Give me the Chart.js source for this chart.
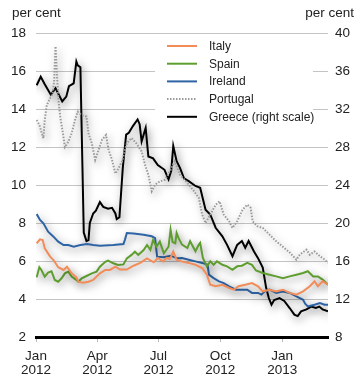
<!DOCTYPE html>
<html>
<head>
<meta charset="utf-8">
<script src="https://cdn.jsdelivr.net/npm/chart.js@4.4.0/dist/chart.umd.min.js"></script>
<style>
  html, body { margin: 0; padding: 0; background: #fff; }
  #wrap { width: 360px; height: 389px; position: relative; }
</style>
</head>
<body>
<div id="wrap"><canvas id="chart"></canvas></div>
<script>
// days counted from 1 Jan 2012
const tickDays = [0, 91, 182, 274, 366];
const tickMonths = ['Jan', 'Apr', 'Jul', 'Oct', 'Jan'];
const tickYears = ['2012', '2012', '2012', '2012', '2013'];

const italyDays = [1,6,10,13,21,26,33,41,46,53,60,63,70,78,85,95,103,110,118,125,135,145,155,165,175,181,189,194,199,204,209,216,227,237,247,254,259,267,277,287,294,301,311,321,330,337,347,357,367,377,387,397,407,414,419,426,434];
const italy = [6.93,7.14,7.1,6.67,6.23,6.05,5.67,5.53,5.7,5.35,5.14,4.91,4.86,4.91,5.0,5.35,5.53,5.53,5.7,5.55,5.55,5.75,5.9,6.14,5.93,6.16,5.98,6.16,6.1,6.5,6.07,5.98,5.9,5.8,5.63,5.28,4.75,4.67,4.75,4.58,4.49,4.67,4.75,4.84,4.67,4.4,4.49,4.4,4.49,4.32,4.23,4.4,4.67,4.93,4.67,4.93,4.75];

const spainDays = [1,5,8,13,18,23,28,33,38,43,48,53,60,63,68,75,83,90,95,103,107,115,122,130,135,142,147,152,160,165,170,174,179,184,190,197,200,203,207,209,212,217,225,229,237,242,244,248,254,259,264,269,277,284,292,299,306,314,321,327,337,347,357,367,377,387,397,404,412,419,426,434];
const spain = [5.14,5.67,5.53,5.18,5.39,5.46,5.0,4.91,5.09,5.35,5.44,5.18,5.0,4.91,5.09,5.21,5.35,5.44,5.7,5.96,6.02,5.88,5.79,5.82,6.14,6.32,6.49,6.32,6.58,6.84,6.58,7.1,6.75,7.02,6.4,6.75,7.65,7.0,6.93,7.47,7.2,6.86,6.68,7.04,6.51,6.86,6.95,6.16,5.72,5.98,5.8,5.98,5.8,5.72,5.54,5.72,5.75,5.9,5.8,5.5,5.37,5.28,5.19,5.1,5.19,5.28,5.37,5.46,5.19,5.19,5.02,4.75];

const irelandDays = [1,6,11,18,26,33,41,48,56,66,76,85,95,115,130,132,135,145,160,172,177,180,190,200,210,217,227,237,247,255,257,264,272,279,287,297,307,314,321,330,335,340,347,357,367,377,382,387,397,400,404,414,422,429,434];
const ireland = [8.47,8.16,7.98,7.54,7.28,7.02,6.84,6.84,6.75,6.84,6.89,6.84,6.8,6.84,6.89,7.1,7.47,7.45,7.38,7.3,7.2,6.23,6.2,6.28,6.14,6.16,6.07,5.98,5.9,5.8,5.28,5.1,4.93,4.84,4.67,4.49,4.49,4.49,4.32,4.32,4.23,4.4,4.49,4.32,4.4,4.32,4.23,4.14,3.96,3.75,3.61,3.7,3.79,3.7,3.7];

const portugalDays = [1,5,8,11,13,16,21,25,27,29,31,33,36,40,43,48,53,58,62,68,75,78,83,88,93,98,104,108,113,118,123,128,135,142,149,157,162,167,172,177,184,192,199,206,214,227,235,242,247,252,259,267,273,279,287,292,299,307,314,319,322,329,337,347,357,367,377,387,392,402,407,414,422,429,434];
const portugal = [13.42,13.16,12.8,12.46,13.42,14.2,14.56,14.83,15.5,17.3,15.9,14.65,13.6,12.72,12.0,12.28,12.72,13.42,13.86,13.68,13.6,12.72,12.19,11.32,11.84,12.37,12.63,11.84,11.32,10.6,10.9,11.25,12.2,12.47,12.2,11.77,11.07,10.54,9.67,10.02,10.19,10.28,10.72,11.25,10.54,10.02,9.67,9.32,8.44,8.0,8.44,8.96,9.14,8.44,8.09,7.74,8.09,8.7,8.96,8.8,8.09,7.83,7.74,7.39,7.04,6.75,6.45,6.07,6.33,6.6,6.33,6.5,6.25,6.07,5.9];

// Greece is read on the right scale
const greeceDays = [1,7,13,22,29,39,45,49,56,60,62,66,69,71,75,78,80,85,89,95,100,107,113,118,120,124,129,134,138,144,151,154,157,163,167,174,181,191,197,201,204,209,214,220,227,237,244,252,259,267,277,284,292,299,306,311,316,324,330,337,342,346,350,354,362,369,377,384,389,394,402,409,416,421,426,434];
const greece = [34.5,35.4,34.6,33.5,34.2,32.8,33.3,34.4,34.7,37.0,36.6,36.4,26,19.0,18.1,18.2,20.0,21.0,21.3,22.2,21.7,21.5,21.6,21.0,20.4,20.6,25.8,29.3,29.5,30.2,30.9,30.4,28.6,30.0,27.0,26.8,26.1,25.6,24.6,25.5,28.1,26.5,25.8,24.7,24.4,23.9,23.7,21.4,20.9,19.5,18.6,17.7,16.5,17.7,18.1,17.4,18.1,17.0,16.3,15.3,13.2,12.1,11.4,11.9,12.1,11.8,11.05,10.35,10.2,10.7,10.9,11.2,11.05,11.2,10.9,10.7];

const FONT = '"Liberation Sans", Arial, Helvetica, sans-serif';
const TEXT = '#222';

const pts = (days, vals) => days.map((d, i) => ({ x: d, y: vals[i] }));

// soft drop shadow under each line
const lineShadow = {
  id: 'lineShadow',
  beforeDatasetDraw(chart) {
    const ctx = chart.ctx;
    ctx.save();
    ctx.shadowColor = 'rgba(0,0,0,0.5)';
    ctx.shadowBlur = 9;
    ctx.shadowOffsetX = 2;
    ctx.shadowOffsetY = 3;
  },
  afterDatasetDraw(chart) {
    chart.ctx.restore();
  }
};

// legend boxed inside the plot + "per cent" headers
const boxLegend = {
  id: 'boxLegend',
  afterDatasetsDraw(chart) {
    const ctx = chart.ctx;
    ctx.save();
    ctx.fillStyle = '#fff';
    ctx.fillRect(155, 37, 158, 89);
    ctx.font = '12px ' + FONT;
    ctx.textBaseline = 'middle';
    ctx.textAlign = 'left';
    chart.data.datasets.forEach((ds, i) => {
      const y = 46 + i * 17.7;
      ctx.beginPath();
      ctx.strokeStyle = ds.borderColor;
      ctx.lineWidth = 2;
      ctx.setLineDash(ds.borderDash || []);
      ctx.moveTo(167, y);
      ctx.lineTo(197, y);
      ctx.stroke();
      ctx.setLineDash([]);
      ctx.fillStyle = TEXT;
      ctx.fillText(ds.label, 209, y + 0.5);
    });
    ctx.restore();
  },
  afterDraw(chart) {
    const ctx = chart.ctx;
    ctx.save();
    ctx.font = '13.5px ' + FONT;
    ctx.fillStyle = TEXT;
    ctx.textBaseline = 'middle';
    ctx.textAlign = 'left';
    ctx.fillText('per cent', 12, 13);
    ctx.textAlign = 'right';
    ctx.fillText('per cent', 354, 13);
    ctx.restore();
  }
};

const lineStyle = { pointRadius: 0, borderWidth: 2, tension: 0, fill: false };

new Chart(document.getElementById('chart'), {
  type: 'line',
  data: {
    datasets: [
      { label: 'Italy', data: pts(italyDays, italy), borderColor: '#f28c58', yAxisID: 'y', ...lineStyle },
      { label: 'Spain', data: pts(spainDays, spain), borderColor: '#5e9e2e', yAxisID: 'y', ...lineStyle },
      { label: 'Ireland', data: pts(irelandDays, ireland), borderColor: '#2e64a6', yAxisID: 'y', ...lineStyle },
      { label: 'Portugal', data: pts(portugalDays, portugal), borderColor: '#9a9a9a', borderDash: [1.5, 1.5], yAxisID: 'y', ...lineStyle },
      { label: 'Greece (right scale)', data: pts(greeceDays, greece), borderColor: '#000', yAxisID: 'y1', ...lineStyle }
    ]
  },
  options: {
    responsive: true,
    maintainAspectRatio: false,
    animation: false,
    layout: { padding: { top: 33, left: 0, right: 0, bottom: 0 } },
    plugins: { legend: { display: false }, tooltip: { enabled: false } },
    scales: {
      x: {
        type: 'linear',
        min: 0,
        max: 434,
        afterBuildTicks: s => { s.ticks = tickDays.map(v => ({ value: v })); },
        afterFit: s => { s.height = 52; },
        ticks: {
          autoSkip: false,
          maxRotation: 0,
          padding: 8,
          color: TEXT,
          font: { family: FONT, size: 13.5, lineHeight: 0.98 },
          callback: (v, i) => [tickMonths[i], tickYears[i]]
        },
        grid: { drawOnChartArea: false, tickLength: 5, color: '#bbb' },
        border: { display: true, color: '#000', width: 3 }
      },
      y: {
        position: 'left',
        min: 2,
        max: 18,
        afterFit: s => { s.width = 36; },
        ticks: { stepSize: 2, padding: 10, color: TEXT, font: { family: FONT, size: 13.5 } },
        grid: { color: '#c4c4c4', lineWidth: 1, drawTicks: false },
        border: { display: false }
      },
      y1: {
        position: 'right',
        min: 8,
        max: 40,
        afterFit: s => { s.width = 32; },
        ticks: { stepSize: 4, padding: 7, color: TEXT, font: { family: FONT, size: 13.5 } },
        grid: { display: false, drawTicks: false },
        border: { display: false }
      }
    }
  },
  plugins: [lineShadow, boxLegend]
});
</script>
</body>
</html>
